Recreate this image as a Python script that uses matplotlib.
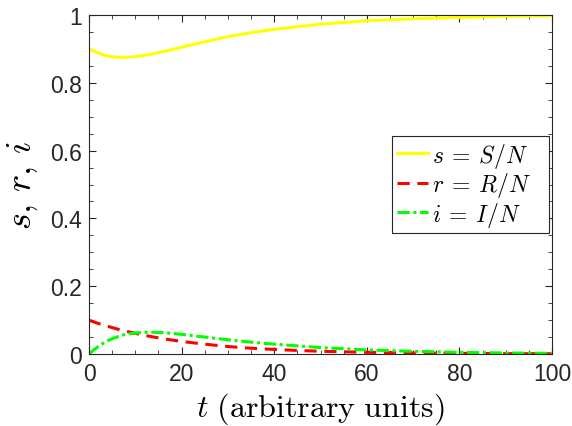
import matplotlib.pyplot as plt
from matplotlib.patches import Rectangle
from matplotlib.ticker import MultipleLocator

plt.rcParams['mathtext.fontset'] = 'cm'
plt.rcParams['font.family'] = ['Liberation Sans', 'DejaVu Sans']

# values
t = [0, 1, 2, 3, 4, 5, 6, 7, 8, 10, 12, 14, 16, 18, 20, 25, 30, 35,
     40, 45, 50, 60, 70, 80, 90, 100]
s_vals = [0.900, 0.893, 0.888, 0.883, 0.879, 0.877, 0.876, 0.875, 0.875,
          0.877, 0.881, 0.886, 0.892, 0.898, 0.905, 0.921, 0.936, 0.948,
          0.9575, 0.9655, 0.973, 0.983, 0.989, 0.993, 0.996, 0.998]
r_vals = [0.100, 0.095, 0.090, 0.086, 0.082, 0.078, 0.074, 0.070, 0.067,
          0.061, 0.055, 0.050, 0.045, 0.041, 0.037, 0.029, 0.022, 0.017,
          0.0135, 0.0105, 0.008, 0.005, 0.003, 0.002, 0.001, 0.0007]
i_vals = [0.000, 0.012, 0.022, 0.031, 0.039, 0.045, 0.050, 0.055, 0.058,
          0.062, 0.064, 0.064, 0.063, 0.061, 0.058, 0.050, 0.042, 0.035,
          0.029, 0.024, 0.019, 0.012, 0.008, 0.005, 0.003, 0.002]

fig = plt.figure(figsize=(5.72, 4.27), dpi=100)
ax = fig.add_axes([89 / 572, 72 / 427, 463 / 572, 339 / 427])

ax.plot(t, s_vals, color=(1, 1, 0), lw=2.2, label=r'$s\:=\:S/N$')
ax.plot(t, r_vals, color=(1, 0, 0), lw=2.2, ls=(0, (4, 2.5)), label=r'$r\:=\:R/N$')
ax.plot(t, i_vals, color=(0, 1, 0), lw=2.2, ls=(0, (4, 1.2, 1, 1.2)), label=r'$i\:=\:I/N$')

ax.set_xlim(0, 100)
ax.set_ylim(0, 1)
ax.xaxis.set_major_locator(MultipleLocator(20))
ax.xaxis.set_minor_locator(MultipleLocator(5))
ax.yaxis.set_minor_locator(MultipleLocator(0.05))
ax.set_yticks([0, 0.2, 0.4, 0.6, 0.8, 1])
ax.set_yticklabels(['0', '0.2', '0.4', '0.6', '0.8', '1'])

dark = (0.15, 0.15, 0.15)
ax.tick_params(which='both', direction='in', top=True, right=True, colors=dark,
               labelsize=16.5)
ax.tick_params(which='major', length=5, width=0.8)
ax.tick_params(which='minor', length=3, width=0.6)
ax.tick_params(axis='x', which='major', pad=6)
ax.tick_params(axis='y', which='major', pad=5)
for sp in ax.spines.values():
    sp.set_color(dark)
    sp.set_linewidth(0.8)

ax.set_xlabel(r'$t\ \mathrm{(arbitrary\ units)}$', fontsize=23, labelpad=4)
ax.set_ylabel(r'$s,\,r,\,i$', fontsize=26, labelpad=7)

leg = ax.legend(loc='upper right', bbox_to_anchor=(0.9654, 0.643), borderaxespad=0,
                fontsize=17, handlelength=1.3, handletextpad=0.2,
                labelspacing=0.02, borderpad=0.2, frameon=False)

# MATLAB-style legend box: extra blank room on the right of the labels
fig.canvas.draw()
bb = leg.get_window_extent().transformed(ax.transAxes.inverted())
extra = 13 / 463
frame = Rectangle((bb.x0, bb.y0), bb.width + extra, bb.height,
                  transform=ax.transAxes, facecolor='white', edgecolor=dark,
                  lw=0.8, zorder=4.5)
ax.add_patch(frame)
ax.set_xlim(0, 100)
ax.set_ylim(0, 1)

fig.savefig('out.png', dpi=100)
